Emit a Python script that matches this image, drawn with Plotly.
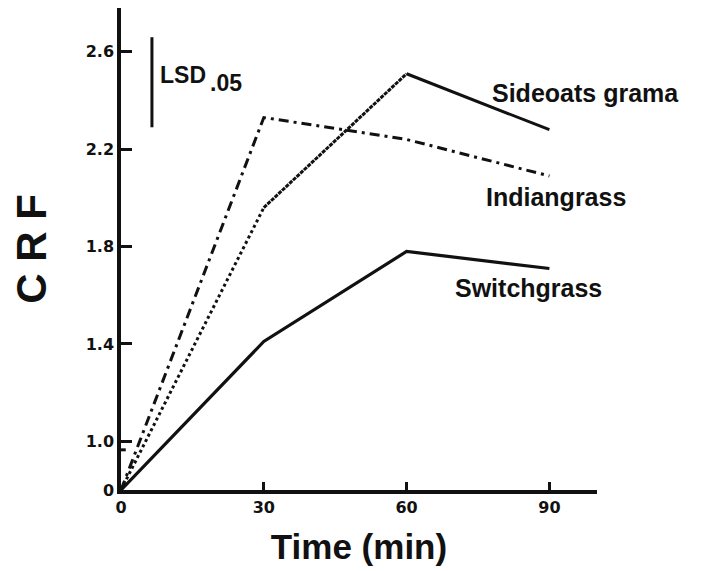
import plotly.graph_objects as go

# Data (CRF vs time)
time_min = [0, 30, 60, 90]
sideoats = [0, 1.96, 2.51, 2.28]
indiangrass = [0, 2.33, 2.24, 2.09]
switchgrass = [0, 1.41, 1.78, 1.71]

y_tick_vals = [0, 1.0, 1.4, 1.8, 2.2, 2.6]
y_tick_text = ["0", "1.0", "1.4", "1.8", "2.2", "2.6"]
x_tick_vals = [0, 30, 60, 90]
x_tick_text = ["0", "30", "60", "90"]

lsd_x = 6.5
lsd_range = [2.29, 2.66]

# broken axis: values below 1.0 are compressed so 0 sits at 0.8
BREAK = 1.0
ZERO_POS = 0.8


def ymap(v):
    if v >= BREAK:
        return v
    return ZERO_POS + (BREAK - ZERO_POS) * v / BREAK


def ys(vals):
    return [ymap(v) for v in vals]


FONT = "Liberation Sans, Arial, Helvetica, sans-serif"
TICKFONT = "DejaVu Sans, Liberation Sans, Arial, sans-serif"
BLACK = "#111111"

fig = go.Figure()

# Sideoats grama: dotted to 30 min, dense dotted to 60, then solid
fig.add_trace(go.Scatter(x=time_min[:2], y=ys(sideoats[:2]), mode="lines",
                         line=dict(color=BLACK, width=3, dash="dot"),
                         showlegend=False, hoverinfo="skip"))
fig.add_trace(go.Scatter(x=time_min[1:3], y=ys(sideoats[1:3]), mode="lines",
                         line=dict(color=BLACK, width=3, dash="4px,1px"),
                         showlegend=False, hoverinfo="skip"))
fig.add_trace(go.Scatter(x=time_min[2:], y=ys(sideoats[2:]), mode="lines",
                         line=dict(color=BLACK, width=3),
                         showlegend=False, hoverinfo="skip"))
# Indiangrass: dash-dot
fig.add_trace(go.Scatter(x=time_min, y=ys(indiangrass), mode="lines",
                         line=dict(color=BLACK, width=3, dash="10px,5px,3px,5px"),
                         showlegend=False, hoverinfo="skip"))
# Switchgrass: solid
fig.add_trace(go.Scatter(x=time_min, y=ys(switchgrass), mode="lines",
                         line=dict(color=BLACK, width=3.2),
                         showlegend=False, hoverinfo="skip"))
# LSD bar
fig.add_trace(go.Scatter(x=[lsd_x, lsd_x], y=lsd_range, mode="lines",
                         line=dict(color=BLACK, width=3),
                         showlegend=False, hoverinfo="skip"))

# axis break mark
fig.add_shape(type="line", xref="paper", yref="y", x0=-0.008, x1=0.01,
              y0=0.965, y1=0.965, line=dict(color=BLACK, width=3))

fig.update_layout(
    width=706, height=571,
    margin=dict(l=113, r=117, t=0, b=89),
    paper_bgcolor="white", plot_bgcolor="white",
    font=dict(family=FONT, color=BLACK),
    xaxis=dict(range=[0, 100], tickvals=x_tick_vals,
               ticktext=["<b>%s</b>" % t for t in x_tick_text],
               ticks="inside", ticklen=8, tickwidth=2.5, tickcolor=BLACK,
               showline=True, linecolor=BLACK, linewidth=3.5,
               showgrid=False, zeroline=False, automargin=False,
               tickfont=dict(size=16, family=TICKFONT, color=BLACK),
               title=dict(text="<b>Time (min)</b>", font=dict(size=35, family=FONT),
                          standoff=20)),
    yaxis=dict(range=[ZERO_POS, 2.78], tickvals=ys(y_tick_vals),
               ticktext=["<b>%s</b>" % t for t in y_tick_text],
               ticks="inside", ticklen=11, tickwidth=2.5, tickcolor=BLACK,
               showline=True, linecolor=BLACK, linewidth=3.5,
               showgrid=False, zeroline=False, automargin=False,
               tickfont=dict(size=16, family=TICKFONT, color=BLACK),
               title=dict(text="<b>C R F</b>", font=dict(size=42, family=FONT),
                          standoff=30)),
)

fig.add_annotation(x=7.8, y=2.506, xref="x", yref="y",
                   text="<b>LSD</b>", showarrow=False,
                   xanchor="left", yanchor="middle",
                   font=dict(size=23, family=FONT, color=BLACK))
fig.add_annotation(x=18.3, y=2.471, xref="x", yref="y",
                   text="<b>.05</b>", showarrow=False,
                   xanchor="left", yanchor="middle",
                   font=dict(size=23, family=FONT, color=BLACK))
fig.add_annotation(x=0.775, y=2.432, xref="paper", yref="y",
                   text="<b>Sideoats grama</b>", showarrow=False,
                   xanchor="left", yanchor="middle",
                   font=dict(size=25, family=FONT, color=BLACK))
fig.add_annotation(x=0.763, y=2.005, xref="paper", yref="y",
                   text="<b>Indiangrass</b>", showarrow=False,
                   xanchor="left", yanchor="middle",
                   font=dict(size=25, family=FONT, color=BLACK))
fig.add_annotation(x=0.697, y=1.628, xref="paper", yref="y",
                   text="<b>Switchgrass</b>", showarrow=False,
                   xanchor="left", yanchor="middle",
                   font=dict(size=25, family=FONT, color=BLACK))

fig.write_html("out.html")
